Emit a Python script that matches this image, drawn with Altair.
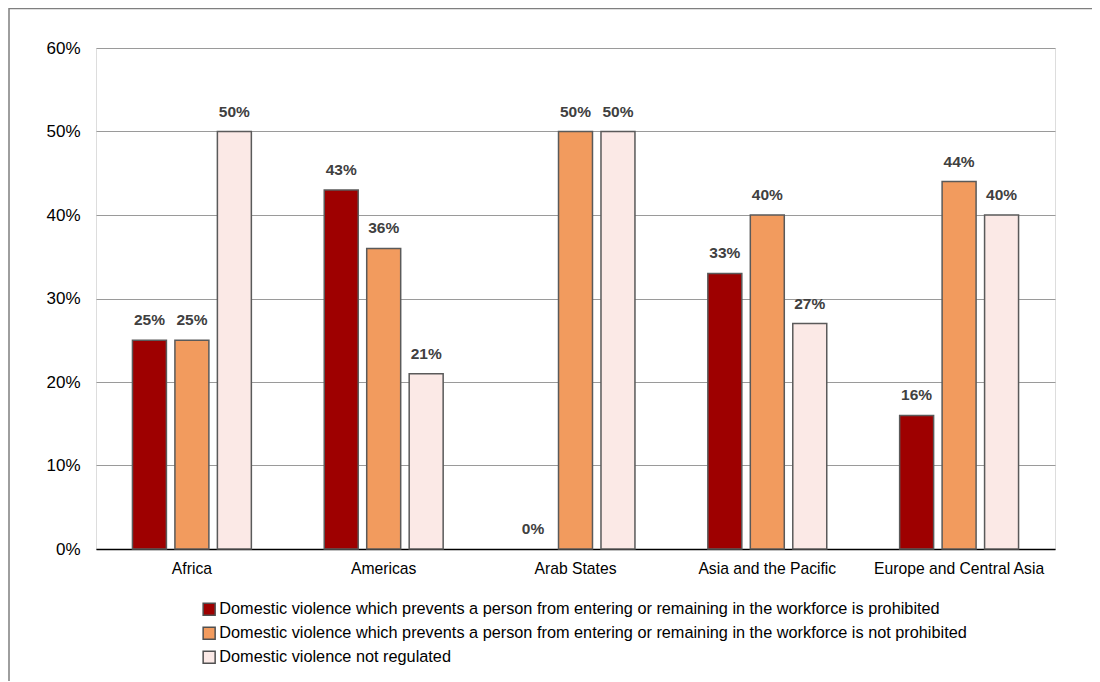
import altair as alt
import pandas as pd

categories = ["Africa", "Americas", "Arab States", "Asia and the Pacific", "Europe and Central Asia"]
series = [
    "Domestic violence which prevents a person from entering or remaining in the workforce is prohibited",
    "Domestic violence which prevents a person from entering or remaining in the workforce is not prohibited",
    "Domestic violence not regulated",
]
prohibited = [0.25, 0.43, 0.00, 0.33, 0.16]
not_prohibited = [0.25, 0.36, 0.50, 0.40, 0.44]
not_regulated = [0.50, 0.21, 0.50, 0.27, 0.40]
colors = ["#9E0000", "#F29B5E", "#FBE9E6"]
y_ticks = [0, 0.1, 0.2, 0.3, 0.4, 0.5, 0.6]

rows = []
for vals, s in zip([prohibited, not_prohibited, not_regulated], series):
    for c, v in zip(categories, vals):
        rows.append({"region": c, "series": s, "value": v})
df = pd.DataFrame(rows)

FONT = "Liberation Sans"

base = alt.Chart(df).encode(
    x=alt.X("region:N", sort=categories, title=None,
            scale=alt.Scale(paddingInner=0.38, paddingOuter=0.19),
            axis=alt.Axis(labelAngle=0, ticks=False, labelPadding=12, labelFontSize=15.7,
                          labelColor="#000000", domainColor="#000000", domainWidth=1.5,
                          grid=False, labelFont=FONT)),
    xOffset=alt.XOffset("series:N", sort=series,
                        scale=alt.Scale(paddingInner=0.2, paddingOuter=0)),
    y=alt.Y("value:Q", title=None,
            scale=alt.Scale(domain=[0, 0.6], nice=False),
            axis=alt.Axis(format=".0%", values=y_ticks, ticks=False, domain=False,
                          labelPadding=16, labelFontSize=17, labelColor="#000000",
                          gridColor="#9a9a9a", gridWidth=1.2, labelFont=FONT)),
)

bars = base.mark_bar(stroke="#5a5a5a", strokeWidth=1.5).encode(
    color=alt.Color("series:N", sort=series,
                    scale=alt.Scale(domain=series, range=colors),
                    legend=alt.Legend(title=None, orient="none", legendX=105, legendY=553,
                                      direction="vertical", symbolType="square",
                                      symbolSize=144, symbolStrokeColor="#505050",
                                      symbolStrokeWidth=1.5, symbolOpacity=1,
                                      labelFontSize=16.3, labelFont=FONT, labelColor="#000000",
                                      labelOffset=2, rowPadding=5, labelLimit=1000)),
    strokeOpacity=alt.condition("datum.value > 0", alt.value(1), alt.value(0)),
)

labels = base.mark_text(dy=-12, fontWeight="bold", fontSize=15.5, color="#404040",
                        font=FONT, baseline="bottom").encode(
    text=alt.Text("value:Q", format=".0%"),
)

border = alt.Chart(alt.Data(values=[{"a": 1}])).mark_rect(
    fill="transparent", stroke="#7f7f7f", strokeWidth=1.5
).encode(
    x=alt.value(-87), x2=alt.value(1500), y=alt.value(-39.5), y2=alt.value(1500)
)

chart = alt.layer(bars, labels, border).properties(
    width=959, height=501,
    autosize=alt.AutoSizeParams(type="none"),
    padding={"left": 88, "top": 40, "right": 37, "bottom": 132},
).configure_view(
    fill="#f0f0f0", stroke="#333333", strokeWidth=1.2
).configure(
    font=FONT
)

chart.save("out.html", embed_options={"renderer": "svg", "actions": False})
